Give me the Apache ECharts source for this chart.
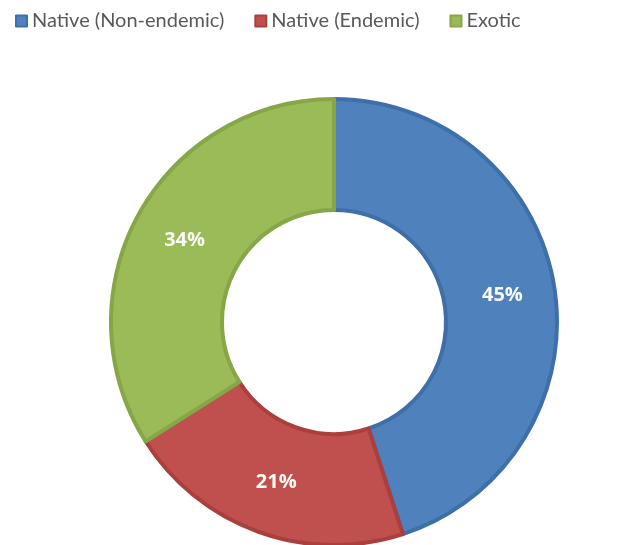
<!DOCTYPE html>
<html>
<head>
<meta charset="utf-8">
<script src="https://cdn.jsdelivr.net/npm/echarts@6/dist/echarts.min.js"></script>
<style>
html,body{margin:0;padding:0;background:#fff;}
#chart{width:643px;height:545px;}
</style>
</head>
<body>
<div id="chart"></div>
<script>
const categories = ["Native (Non-endemic)", "Native (Endemic)", "Exotic"];
const values = [45, 21, 34];
const colors = ["#4F81BD", "#C0504D", "#9BBB59"];
const borderColors = ["#3F6FA8", "#A9403D", "#86A648"];

const chart = echarts.init(document.getElementById('chart'));
chart.setOption({
  animation: false,
  legend: {
    left: 10,
    top: 6,
    itemWidth: 11,
    itemHeight: 11,
    itemGap: 30,
    icon: 'rect',
    textStyle: { fontFamily: 'Lato', fontSize: 20, color: '#595959' },
    data: categories
  },
  series: [{
    type: 'pie',
    center: [334, 322],
    radius: [112, 223],
    startAngle: 90,
    clockwise: true,
    label: {
      show: true,
      position: 'inside',
      formatter: '{d}%',
      color: '#fbfbf5',
      fontFamily: 'Open Sans',
      fontWeight: 'bold',
      fontSize: 20
    },
    labelLine: { show: false },
    emphasis: { disabled: true },
    data: categories.map((c, i) => ({
      name: c,
      value: values[i],
      itemStyle: { color: colors[i], borderColor: borderColors[i], borderWidth: 4 }
    }))
  }]
});
</script>
</body>
</html>
